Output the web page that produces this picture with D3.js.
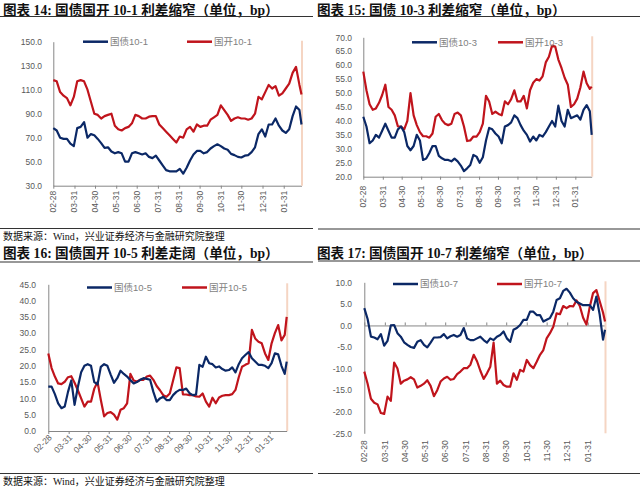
<!DOCTYPE html>
<html><head><meta charset="utf-8">
<script src="https://cdn.jsdelivr.net/npm/d3@7"></script>
<style>body{margin:0;background:#fff}svg{display:block}</style>
</head><body>
<svg id="c" width="640" height="490"></svg>
<script>
const dates = ["2017-02-28","2017-03-05","2017-03-10","2017-03-15","2017-03-20","2017-03-25","2017-03-30","2017-04-04","2017-04-09","2017-04-14","2017-04-19","2017-04-24","2017-04-29","2017-05-04","2017-05-09","2017-05-14","2017-05-19","2017-05-24","2017-05-29","2017-06-03","2017-06-08","2017-06-13","2017-06-18","2017-06-23","2017-06-28","2017-07-03","2017-07-08","2017-07-13","2017-07-18","2017-07-23","2017-07-28","2017-08-02","2017-08-07","2017-08-12","2017-08-17","2017-08-22","2017-08-27","2017-09-01","2017-09-06","2017-09-11","2017-09-16","2017-09-21","2017-09-26","2017-10-01","2017-10-06","2017-10-11","2017-10-16","2017-10-21","2017-10-26","2017-10-31","2017-11-05","2017-11-10","2017-11-15","2017-11-20","2017-11-25","2017-11-30","2017-12-05","2017-12-10","2017-12-15","2017-12-20","2017-12-25","2017-12-30","2018-01-04","2018-01-09","2018-01-14","2018-01-19","2018-01-24","2018-01-29","2018-02-03","2018-02-08","2018-02-13","2018-02-18","2018-02-23","2018-02-26"];
const endDate = "2018-02-26";
const tickDates = ["2017-02-28","2017-03-31","2017-04-30","2017-05-31","2017-06-30","2017-07-31","2017-08-31","2017-09-30","2017-10-31","2017-11-30","2017-12-31","2018-01-31"];

const gz101 = [78,76,70,69,69,65,63,78,79,83, 70,73,72,69,65.5,61.5,62,58.5,57,58, 57,50,50,57,58,57,56,57,54,53, 55,51,47,43,42,42,42,44,40,45, 51,56,59,59,57,58,61,63,64.5,63, 61,60,56.5,55.5,54,53.5,55,55.5,58,62, 73,77,71,81,81,86,80,76,74,77, 88,96,93,81];
const gk101 = [118,117,108,105,103,97,104,117,118,117, 110,100,90,89,86,88,89,90,80,77, 76,78,79,82,89,88,86,86,87.5,88, 88,81,78,75,72,69,66,71,70,77, 79,75,81,79,80,80,85,87,89,97, 93,89,84,86,87,86,86,85,86,90, 104,102,108,114,111,113,105,107,111,115, 124,129,114,106];
const gz103 = [41.5,38,32,33,35,34,36.5,39,36.5,34, 34,37,38,36,31,29.5,31,35,33,26, 26.5,28.5,31,31,27.5,26.6,26,26,25.5,26.5, 25.5,24,22,23,24.2,27.8,27.2,25,27,33, 37.5,37,35.5,34.4,32,38,38.5,39.5,42,41, 38.5,36.5,35,32.6,34.4,33,35,34.4,36,38, 40,38,45.5,40,38,44,41,41.5,42,40.5, 44,45.7,43.5,35];
const gk103 = [57.7,51,46,44,44.5,46.5,49.3,53,45,44, 42,38,38,37,40,50,42,38.5,36,34.5, 34.5,34,35.5,41.5,42.5,40.3,39,38.5,39,42.5, 43,42,38,32.8,33,34.4,34.4,36,39,49, 47,42.5,43.3,42.5,42,47,46,47.8,51,47, 47,49,44.5,51,53.7,55,54.5,56,61,63, 67,66.7,62,59,55.5,53,45,46,48,52, 57.7,53.5,51.5,52.3];
const gz105 = [13.6,13.6,11.3,8.5,7,7.5,12,15.5,8,13.5, 18,20,20.5,20,15,14.3,19.7,20.5,20,17.3, 14.8,16.2,18.5,17.5,16.7,15.6,14.6,15,15.7,16.2, 16,15.7,12,9,10,10.5,9.5,9.5,11,12, 12.6,12.6,13,11.6,11,11.2,20.3,19.7,22.8,20.8, 20.5,19.5,19.8,19,18.5,18.7,19.5,18,20.5,22.3, 23.3,24.2,22.3,21.3,20.3,20.3,20,19.3,20.8,23.8, 23.5,20,17.5,21.3];
const gk105 = [23.8,19.3,16.7,14.6,14.4,15.1,16.5,16.8,14.8,12.5, 10,7.5,9,9,13,15,9.5,4.5,5.5,5.8, 5,3.5,6.5,7,8.5,17.5,15.5,15.2,15.7,15.7, 16.7,17,15.7,13.8,12.5,11,10.5,11.5,15.5,19.5, 19.3,11.2,11.2,11,11,10.6,10.5,11.5,9,7.5, 10.2,8.5,10.3,10.8,11,11,11.3,12.6,16.5,19.7, 20.3,20.8,31,28.4,27.4,26.9,23.8,21.8,26.9,30, 32.5,27.8,29.5,35];
const gz107 = [4,1.5,-2.6,-2.8,-3.2,-2,-4.7,-3.6,0,0.1, -1.8,-2.6,-3.9,-4.5,-5,-5.2,-3.8,-3.4,-4.5,-5.1, -4,-2.8,-2.8,-2.7,-2,-3,-2.5,-2.2,-2.6,-2.2, -0.6,-3,-3.4,-3.4,-3,-2.6,-3.4,-4,-3,-3.4, -2.6,-2.2,-1.4,-3,-3.8,-1,-0.6,0.1,1.3,1.3, 3.2,3.2,2.4,2.4,0.9,1.3,1.7,3.2,5.9,6.3, 8,8.5,7.6,6.3,5.5,5.1,4.7,4.7,4.7,3.6, 6.7,2.5,-3.3,-1];
const gk107 = [-10.7,-13.5,-17,-17.9,-18.3,-20.3,-20.5,-16.5,-17.5,-8.6, -10,-13.5,-12.8,-12.5,-12,-12.5,-14.4,-14,-13.5,-12.7, -14,-16.4,-15,-13,-12.3,-11.9,-12.6,-12.4,-11.3,-10.7, -9.9,-9.9,-9.1,-6.8,-8.3,-10.5,-12.4,-11.1,-9.6,-4, -13.5,-12.8,-13.8,-14.2,-14.2,-11.1,-12.6,-10.3,-10.7,-8, -9.2,-9.9,-8.4,-6.8,-5.7,-3,-1.8,-0.3,2.8,2.6, 4.5,4,4.5,4.4,5.8,4.5,1.8,0.2,4.3,7.5, 8.2,5.6,3,0.9];

const yTicks14 = [30,50,70,90,110,130,150];
const yTicks15 = [20,25,30,35,40,45,50,55,60,65,70];
const yTicks16 = [0,5,10,15,20,25,30,35,40,45];
const yTicks17 = [-25,-20,-15,-10,-5,0,5,10];

const titles = ["图表 14:  国债国开 10-1 利差缩窄（单位，bp）","图表 15:  国债 10-3 利差缩窄（单位，bp）","图表 16:  国债国开 10-5 利差走阔（单位，bp）","图表 17:  国债国开 10-7 利差缩窄（单位，bp）"];
const names14 = ["国债10-1","国开10-1"];
const names15 = ["国债10-3","国开10-3"];
const names16 = ["国债10-5","国开10-5"];
const names17 = ["国债10-7","国开10-7"];
const sourceText = "数据来源：Wind，兴业证券经济与金融研究院整理";

const BLUE = "#0b2866", RED = "#c0141c";
const svg = d3.select("#c");
const parse = d3.timeParse("%Y-%m-%d");
const fmt = d3.timeFormat("%m-%d");
const SANS = "'Liberation Sans','Noto Sans CJK SC',sans-serif";
const SERIF = "'Liberation Serif','Noto Sans CJK SC',serif";

const panels = [
 {title:titles[0], tx:3, ty:14.5, l0:0, l1:313, lineTop:16.5, lineBot:228.5, src:true, srcY:240,
  left:53.3, right:301.5, top:41.7, bottom:185.7, dom:[30,150], ticks:yTicks14, labEnd:42,
  series:[gz101,gk101], names:names14, legX:[83,187], legY:41.7, rot:-90, labGap:5},
 {title:titles[1], tx:317, ty:14.5, l0:318, l1:640, lineTop:16.5, lineBot:229, src:false,
  left:363.3, right:591.7, top:37.3, bottom:176.7, dom:[20,70], ticks:yTicks15, labEnd:352,
  series:[gz103,gk103], names:names15, legX:[412,498], legY:42.3, rot:-90, labGap:9},
 {title:titles[2], tx:3, ty:258, l0:0, l1:313, lineTop:262, lineBot:473.5, src:true, srcY:485,
  left:48.3, right:286.7, top:284.3, bottom:431, dom:[0,45], ticks:yTicks16, labEnd:36,
  series:[gz105,gk105], names:names16, legX:[87,182], legY:287.5, rot:-45, labGap:5},
 {title:titles[3], tx:317, ty:258, l0:318, l1:640, lineTop:261, lineBot:473.5, src:false,
  left:364.3, right:605, top:282.3, bottom:433.3, dom:[-25,10], ticks:yTicks17, labEnd:352,
  series:[gz107,gk107], names:names17, legX:[393,497], legY:284, rot:-90, labGap:7, zero:true}
];

panels.forEach(p => {
  const g = svg.append("g");
  g.append("text").attr("x",p.tx).attr("y",p.ty).text(p.title)
    .attr("font-family",SERIF).attr("font-weight","bold").attr("font-size",13.6).attr("fill","#111");
  g.append("line").attr("x1",p.l0).attr("x2",p.l1).attr("y1",p.lineTop).attr("y2",p.lineTop).attr("stroke","#333").attr("stroke-width",1.2);
  g.append("line").attr("x1",p.l0).attr("x2",p.l1).attr("y1",p.lineBot).attr("y2",p.lineBot).attr("stroke","#333").attr("stroke-width",1.2);
  if (p.src) g.append("text").attr("x",3).attr("y",p.srcY).text(sourceText)
    .attr("font-family",SERIF).attr("font-size",10).attr("fill","#111");

  const x = d3.scaleTime().domain([parse(dates[0]), parse(endDate)]).range([p.left, p.right]);
  const y = d3.scaleLinear().domain(p.dom).range([p.bottom, p.top]);

  const ya = g.append("g").attr("transform",`translate(${p.left},0)`)
    .call(d3.axisLeft(y).tickValues(p.ticks).tickFormat(v => v.toFixed(1)).tickSize(0).tickPadding(p.left - p.labEnd));
  ya.select(".domain").attr("stroke","#868686");
  ya.selectAll("text").attr("font-family",SANS).attr("font-size",8.5).attr("fill","#595959");

  const axisY = p.zero ? y(0) : p.bottom;
  const xa = g.append("g").attr("transform",`translate(0,${axisY})`)
    .call(d3.axisBottom(x).tickValues(tickDates.map(parse)).tickFormat("").tickSizeOuter(0).tickSizeInner(p.zero ? -3 : 3));
  xa.select(".domain").attr("stroke","#868686");
  xa.selectAll(".tick line").attr("stroke","#868686");

  g.selectAll(".xl").data(tickDates).join("text")
    .attr("transform", d => `translate(${x(parse(d)) + (p.rot===-45?2:0)},${p.bottom + p.labGap}) rotate(${p.rot})`)
    .attr("text-anchor","end").attr("dy","0.35em").text(d => fmt(parse(d)))
    .attr("font-family",SANS).attr("font-size",8.5).attr("fill","#595959");

  g.append("line").attr("x1",p.right+0.5).attr("x2",p.right+0.5).attr("y1",p.top-1).attr("y2",p.bottom)
    .attr("stroke","#f5d5c3").attr("stroke-width",2);

  const line = d3.line().x((d,i) => x(parse(dates[i]))).y(d => y(d));
  [p.series[1], p.series[0]].forEach((s, j) => {
    g.append("path").attr("d", line(s)).attr("fill","none")
      .attr("stroke", j===0 ? RED : BLUE).attr("stroke-width",2.2).attr("stroke-linejoin","round");
  });

  p.names.forEach((n, i) => {
    g.append("line").attr("x1",p.legX[i]).attr("x2",p.legX[i]+25).attr("y1",p.legY).attr("y2",p.legY)
      .attr("stroke", i===0 ? BLUE : RED).attr("stroke-width",2.5);
    g.append("text").attr("x",p.legX[i]+27).attr("y",p.legY+3.3).text(n)
      .attr("font-family",SANS).attr("font-size",9.5).attr("fill","#7f7f7f");
  });
});
</script>
</body></html>
